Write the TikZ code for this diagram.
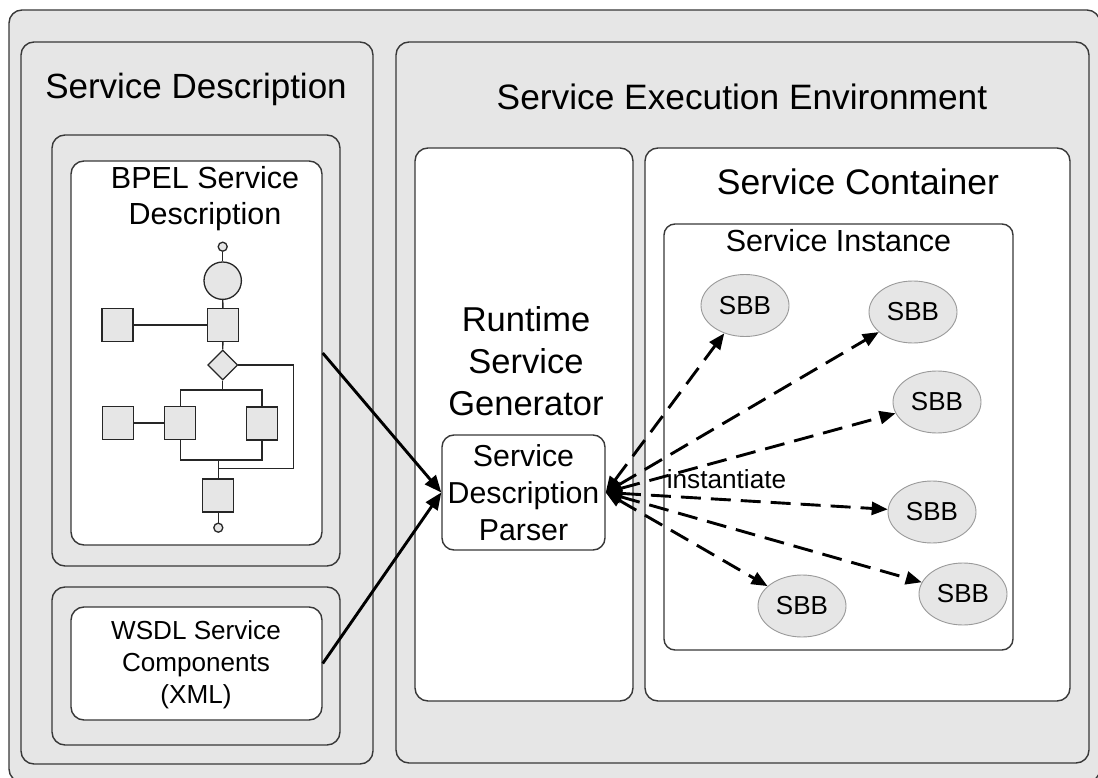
\documentclass[tikz,border=0pt]{standalone}
\usepackage{fontspec}
\setmainfont{Liberation Sans}
\usetikzlibrary{arrows.meta,shapes.geometric}
\definecolor{bd}{HTML}{383838}
\definecolor{pg}{HTML}{E6E6E6}
\begin{document}
\begin{tikzpicture}[x=1pt,y=-1pt,
  box/.style={draw=bd, line width=1.4pt, rounded corners=13pt, inner sep=0pt},
  panel/.style={box, fill=pg},
  wbox/.style={box, fill=white},
  txt/.style={anchor=base, inner sep=0pt, align=center},
  fshape/.style={draw=black!85, line width=1.3pt, fill=pg, inner sep=0pt},
  fsq/.style={fshape, rectangle, minimum width=31pt, minimum height=33pt},
  fline/.style={draw=black!85, line width=1.3pt},
  sbb/.style={ellipse, draw=black!40, line width=0.9pt, fill=pg, minimum width=88pt, minimum height=62pt, inner sep=0pt, font=\fontsize{26}{30}\selectfont},
  solidarrow/.style={line width=2.9pt, -{Triangle[length=17pt,width=14pt]}},
  dasharrow/.style={line width=2.9pt, dash pattern=on 20pt off 10pt, {Triangle[length=16pt,width=13pt]}-{Triangle[length=16pt,width=13pt]}}
]
\useasboundingbox (0,0) rectangle (1098,778);
% outer
\node[panel, minimum width=1091pt, minimum height=772pt] (outer) at (554.5,396) {};
% service description panel
\node[panel, minimum width=352pt, minimum height=722pt] (sdp) at (197,403) {};
\node[txt, font=\fontsize{35}{42}\selectfont] (sdt) at (196,99) {Service Description};
\node[panel, minimum width=288pt, minimum height=431pt] (bpelo) at (196,350.5) {};
\node[wbox, minimum width=251pt, minimum height=384pt] (bpel) at (196.5,353) {};
\node[txt, font=\fontsize{30.5}{36.7}\selectfont] (bpelt) at (205,225) {BPEL Service\\Description};
\node[panel, minimum width=288pt, minimum height=158pt] (wsdlo) at (196,666) {};
\node[wbox, minimum width=251pt, minimum height=113pt] (wsdl) at (196.5,663.5) {};
\node[txt, font=\fontsize{26.1}{32}\selectfont] (wsdlt) at (196,703.3) {WSDL Service\\Components\\(XML)};
% flowchart
\node[fshape, circle, minimum size=9pt] (c0) at (222.7,246.7) {};
\node[fshape, circle, minimum size=37.4pt] (c1) at (222.7,280.7) {};
\node[fsq] (q1) at (223,325) {};
\node[fsq] (q0) at (117.5,325) {};
\node[fshape, diamond, minimum width=30pt, minimum height=30pt] (d) at (222.7,365) {};
\node[fsq] (q2) at (180.3,423) {};
\node[fsq] (q3) at (262,423.5) {};
\node[fsq] (q4) at (118.3,423) {};
\node[fsq] (q5) at (218.3,495.5) {};
\node[fshape, circle, minimum size=9pt] (c2) at (218.3,527.7) {};
\coordinate (loopR) at (293.3,468.3);
\coordinate (merge) at (218.3,468.3);
\coordinate (split) at (222.7,390);
\coordinate (join) at (218.3,460);
\draw[fline] (c0) -- (c1);
\draw[fline] (c1) -- (q1);
\draw[fline] (q0) -- (q1);
\draw[fline] (q1) -- (d);
\draw[fline] (d.east) -| (loopR) -- (merge);
\draw[fline] (d.south) -- (split);
\draw[fline] (q2.north) |- (split) -| (q3.north);
\draw[fline] (q2.south) |- (join) -| (q3.south);
\draw[fline] (join) -- (q5);
\draw[fline] (q5) -- (c2);
\draw[fline] (q4) -- (q2);
% execution environment
\node[panel, minimum width=693pt, minimum height=721pt] (see) at (742.5,402.5) {};
\node[txt, font=\fontsize{35.3}{42}\selectfont] (seet) at (742,110) {Service Execution Environment};
\node[wbox, minimum width=218pt, minimum height=553pt] (rsg) at (524,424.5) {};
\node[txt, font=\fontsize{34.5}{41.6}\selectfont] (rsgt) at (526,415) {Runtime\\Service\\Generator};
\node[wbox, rounded corners=12pt, minimum width=163pt, minimum height=115pt, align=center, font=\fontsize{30.3}{36.7}\selectfont] (parser) at (523.5,492.5) {Service\\Description\\Parser};
\node[wbox, minimum width=425pt, minimum height=553pt] (cont) at (857.5,424.5) {};
\node[txt, font=\fontsize{35.5}{42}\selectfont] (contt) at (858,195) {Service Container};
\node[wbox, rounded corners=11pt, minimum width=349pt, minimum height=426pt] (inst) at (838.5,437) {};
\node[txt, font=\fontsize{30.5}{36}\selectfont] (instt) at (838.5,251.7) {Service Instance};
% SBBs
\node[sbb] (s1) at (745,305.5) {SBB};
\node[sbb] (s2) at (913,312) {SBB};
\node[sbb] (s3) at (937,402) {SBB};
\node[sbb] (s4) at (932,512) {SBB};
\node[sbb] (s5) at (963,594) {SBB};
\node[sbb] (s6) at (802,606) {SBB};
% arrows
\draw[solidarrow] (bpel.east) -- (parser.west);
\draw[solidarrow] (wsdl.east) -- (parser.west);
\foreach \s in {s1,s2,s3,s4,s5,s6}{
  \draw[dasharrow] (parser.east) -- (\s);
}
\node[txt, font=\fontsize{26.2}{30}\selectfont] (inst-lbl) at (726.5,488.3) {instantiate};
\end{tikzpicture}
\end{document}
